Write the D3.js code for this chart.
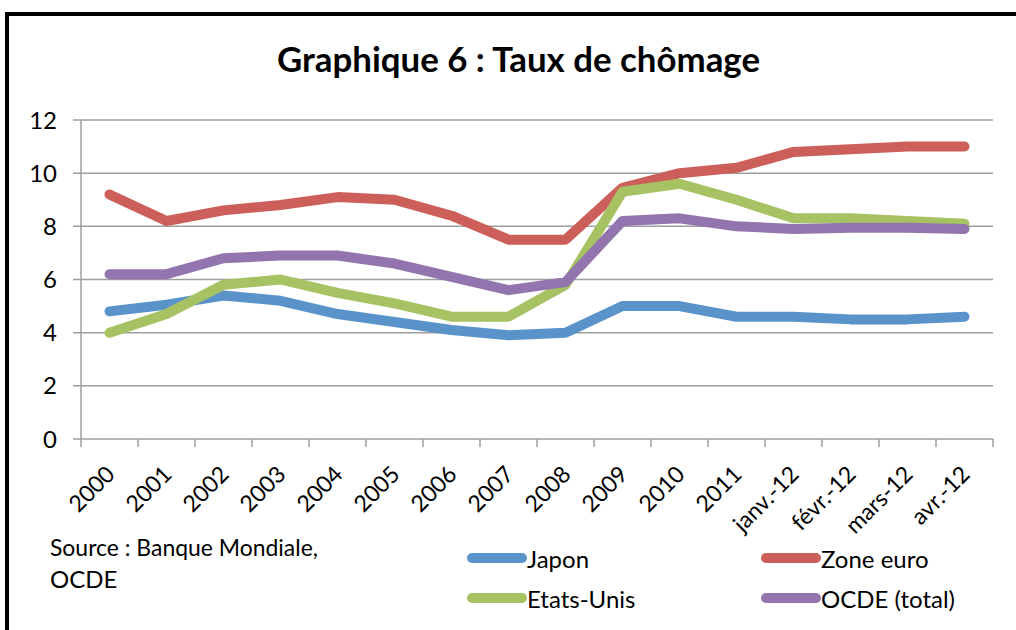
<!DOCTYPE html>
<html>
<head>
<meta charset="utf-8">
<script src="https://cdn.jsdelivr.net/npm/d3@7"></script>
<style>
  body { margin: 0; background: #fff; }
  text { font-family: Lato, "Open Sans", sans-serif; fill: #000; }
</style>
</head>
<body>
<div id="myChart"></div>
<script>
// data
var categories = ["2000", "2001", "2002", "2003", "2004", "2005", "2006", "2007", "2008",
    "2009", "2010", "2011", "janv.-12", "févr.-12", "mars-12", "avr.-12"];
var japon     = [4.8, 5.05, 5.4, 5.2, 4.7, 4.4, 4.1, 3.9, 4.0, 5.0, 5.0, 4.6, 4.6, 4.5, 4.5, 4.6];
var zoneEuro  = [9.2, 8.2, 8.6, 8.8, 9.1, 9.0, 8.4, 7.5, 7.5, 9.45, 10.0, 10.2, 10.8, 10.9, 11.0, 11.0];
var etatsUnis = [4.0, 4.7, 5.8, 6.0, 5.5, 5.1, 4.6, 4.6, 5.8, 9.3, 9.6, 9.0, 8.3, 8.3, 8.2, 8.1];
var ocde      = [6.2, 6.2, 6.8, 6.9, 6.9, 6.6, 6.1, 5.6, 5.9, 8.2, 8.3, 8.0, 7.9, 7.95, 7.95, 7.9];
var yTicks = [0, 2, 4, 6, 8, 10, 12];

var series = [
    { name: "Japon", values: japon, color: "#5a93ca" },
    { name: "Zone euro", values: zoneEuro, color: "#cc5f5a" },
    { name: "Etats-Unis", values: etatsUnis, color: "#a6c262" },
    { name: "OCDE (total)", values: ocde, color: "#9275ae" }
];

var W = 1016, H = 630;
var plot = { left: 81, right: 993, top: 120, bottom: 439 };

var svg = d3.select("#myChart").append("svg")
    .attr("width", W)
    .attr("height", H);

svg.append("rect")
    .attr("x", 7).attr("y", 14)
    .attr("width", 1030).attr("height", 650)
    .attr("fill", "none")
    .attr("stroke", "#000")
    .attr("stroke-width", 4);

var x = d3.scaleBand().domain(categories).range([plot.left, plot.right]).padding(0);
var y = d3.scaleLinear().domain([0, 12]).range([plot.bottom, plot.top]);

//gridlines + y tick marks
svg.append("g")
    .selectAll("line")
    .data(yTicks)
    .join("line")
    .attr("x1", plot.left - 8).attr("x2", plot.right)
    .attr("y1", function (d) { return y(d); })
    .attr("y2", function (d) { return y(d); })
    .attr("stroke", "#9e9e9e")
    .attr("stroke-width", 1.5);

svg.append("g")
    .selectAll("text")
    .data(yTicks)
    .join("text")
    .attr("x", 57)
    .attr("y", function (d) { return y(d); })
    .attr("dy", "0.36em")
    .attr("text-anchor", "end")
    .style("font-size", "24px")
    .text(function (d) { return d; });

// y axis line
svg.append("line")
    .attr("x1", plot.left).attr("x2", plot.left)
    .attr("y1", plot.top).attr("y2", plot.bottom)
    .attr("stroke", "#9e9e9e").attr("stroke-width", 1.5);

// x tick marks at the category boundaries
var bounds = categories.map(function (c) { return x(c); }).concat([plot.right]);
svg.append("g")
    .selectAll("line")
    .data(bounds)
    .join("line")
    .attr("x1", function (d) { return d; })
    .attr("x2", function (d) { return d; })
    .attr("y1", plot.bottom).attr("y2", plot.bottom + 8)
    .attr("stroke", "#9e9e9e").attr("stroke-width", 1.5);

svg.append("g")
    .selectAll("text")
    .data(categories)
    .join("text")
    .attr("transform", function (d) {
        return "translate(" + (x(d) + x.bandwidth() / 2 + 1) + "," + 470 + ") rotate(-45)";
    })
    .attr("dy", "0.35em")
    .attr("text-anchor", "end")
    .style("font-size", "23px")
    .text(function (d) { return d; });

var line = d3.line()
    .x(function (d, i) { return x(categories[i]) + x.bandwidth() / 2; })
    .y(function (d) { return y(d); });

svg.append("g")
    .selectAll("path")
    .data(series)
    .join("path")
    .attr("d", function (s) { return line(s.values); })
    .attr("fill", "none")
    .attr("stroke", function (s) { return s.color; })
    .attr("stroke-width", 10)
    .attr("stroke-linecap", "round")
    .attr("stroke-linejoin", "round");

// title
svg.append("text")
    .attr("x", 277).attr("y", 72)
    .attr("textLength", 483)
    .attr("lengthAdjust", "spacingAndGlyphs")
    .style("font-size", "34px")
    .style("font-weight", "bold")
    .text("Graphique 6 : Taux de chômage");

// source
svg.append("text")
    .attr("x", 50).attr("y", 556)
    .attr("textLength", 268)
    .attr("lengthAdjust", "spacingAndGlyphs")
    .style("font-size", "24px")
    .text("Source : Banque Mondiale,");
svg.append("text")
    .attr("x", 50).attr("y", 588)
    .style("font-size", "24px")
    .text("OCDE");

// legend
var legendPos = [
    { x: 467, y: 558 },
    { x: 761, y: 558 },
    { x: 467, y: 598 },
    { x: 761, y: 598 }
];
var legend = svg.append("g")
    .selectAll("g")
    .data(series)
    .join("g")
    .attr("transform", function (s, i) { return "translate(" + legendPos[i].x + "," + legendPos[i].y + ")"; });

legend.append("line")
    .attr("x1", 5).attr("x2", 55)
    .attr("stroke", function (s) { return s.color; })
    .attr("stroke-width", 10)
    .attr("stroke-linecap", "round");

legend.append("text")
    .attr("x", 60)
    .attr("y", 10)
    .style("font-size", "24px")
    .text(function (s) { return s.name; });
</script>
</body>
</html>
